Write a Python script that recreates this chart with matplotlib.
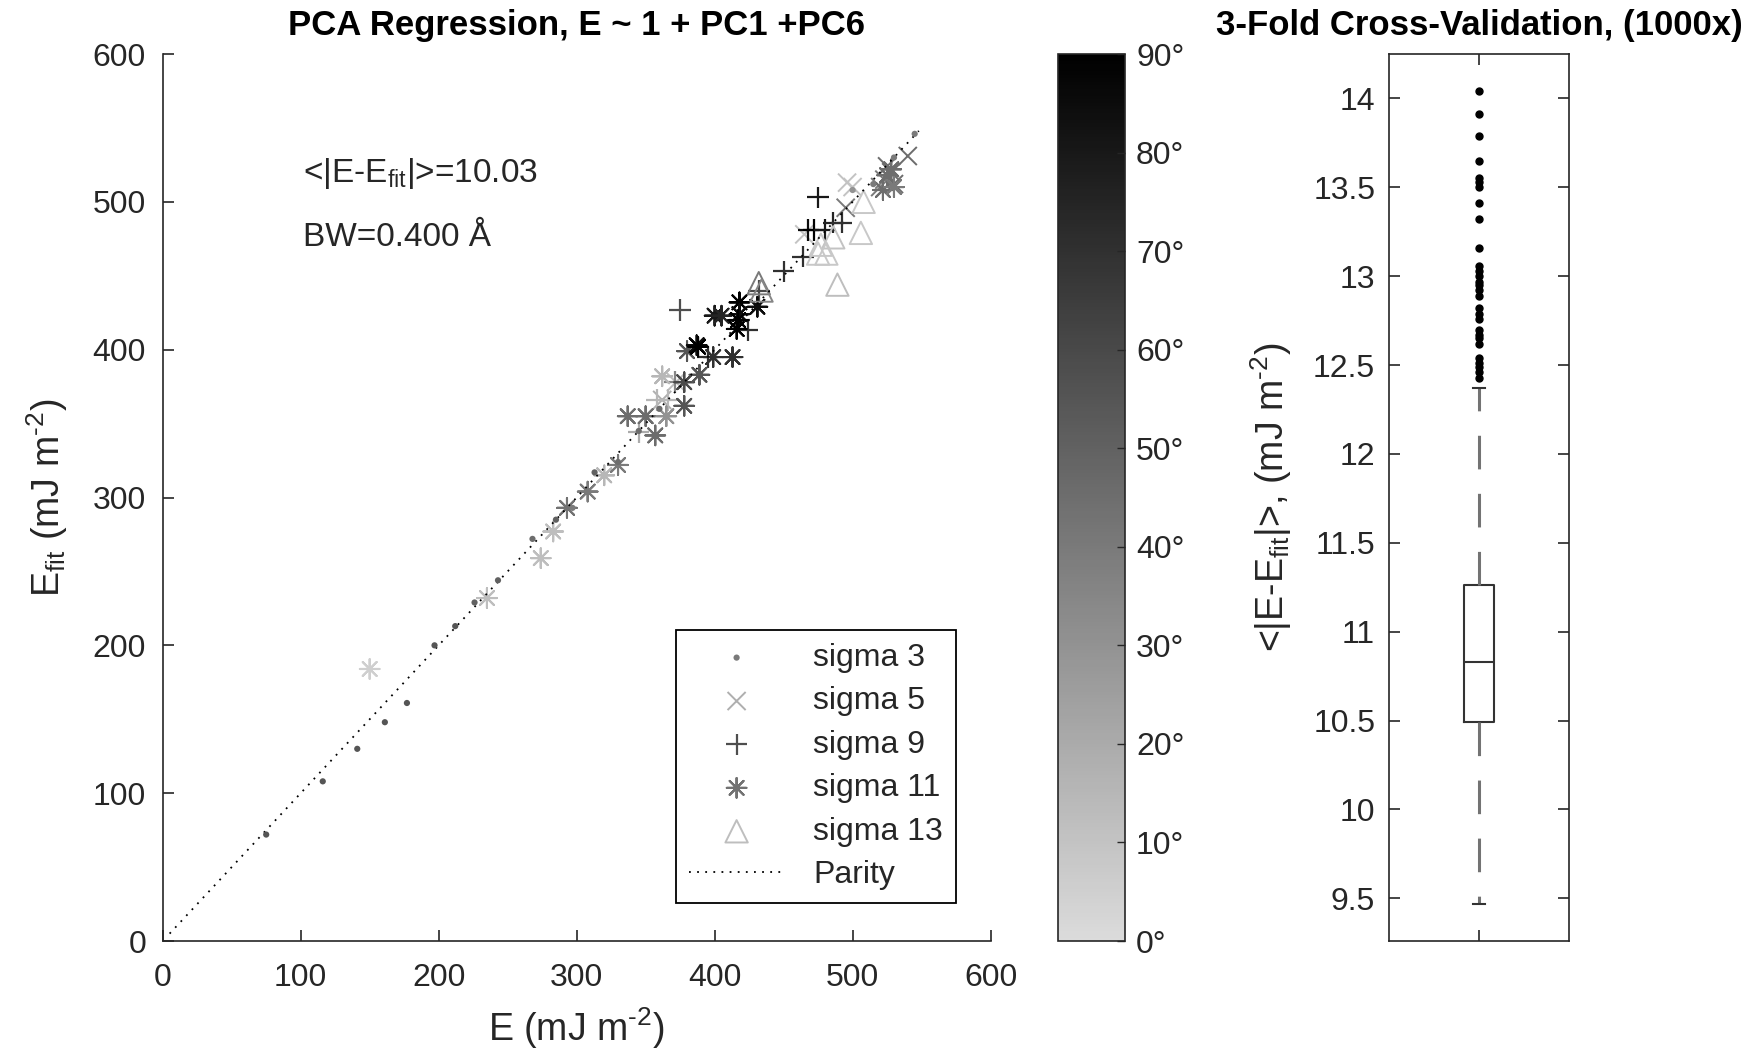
"""PCA regression parity plot with colour-coded angle and cross-validation boxplot"""

import matplotlib
matplotlib.use("Agg")
import numpy as np
import matplotlib.pyplot as plt
from matplotlib.colors import LinearSegmentedColormap, Normalize
from matplotlib.markers import MarkerStyle
from matplotlib.ticker import FuncFormatter

plt.rcParams['font.family'] = ['Liberation Sans', 'DejaVu Sans']
plt.rcParams['mathtext.fontset'] = 'custom'
plt.rcParams['mathtext.rm'] = 'Liberation Sans'
plt.rcParams['mathtext.it'] = 'Liberation Sans:italic'
plt.rcParams['mathtext.bf'] = 'Liberation Sans:bold'

TXT = (0.15, 0.15, 0.15)
FS = 23      # tick / legend text
LFS = 27     # axis labels
TFS = 25     # titles

# ---- data: E, E_fit, angle (deg) per sigma group ----
s3_e = [297, 75, 116, 141, 161, 177, 197, 212, 226, 243, 268, 285, 313, 330, 345, 360, 500, 515, 530, 545]
s3_fit = [293, 72, 108, 130, 148, 161, 200, 213, 229, 244, 272, 285, 317, 324, 345, 360, 508, 512, 530, 546]
s3_ang = [40, 55, 55, 55, 55, 55, 55, 55, 50, 50, 45, 50, 50, 45, 45, 45, 30, 40, 40, 40]

s5_e = [362, 540, 523, 528, 520, 530, 525, 500, 496, 495, 465, 372]
s5_fit = [366, 531, 515, 520, 510, 512, 524, 510, 513, 496, 478, 378]
s5_ang = [18, 45, 40, 45, 40, 45, 45, 10, 10, 40, 10, 12]

s9_e = [375, 475, 468, 472, 480, 486, 492, 464, 450, 432, 424, 418, 366, 358, 371, 345, 395]
s9_fit = [427, 503, 481, 481, 481, 486, 486, 463, 453, 440, 413, 420, 366, 366, 378, 344, 395]
s9_ang = [58, 80, 85, 90, 80, 75, 70, 70, 70, 60, 70, 70, 15, 15, 35, 20, 70]

s11_e = [293, 150, 235, 274, 283, 320, 362, 308, 330, 337, 350, 357, 365, 378, 378, 380, 387,
         388, 389, 399, 413, 400, 405, 418, 418, 417, 416, 431, 525, 522, 530, 528]
s11_fit = [293, 184, 232, 259, 277, 315, 382, 304, 322, 355, 355, 342, 355, 362, 378, 399, 403,
           402, 383, 395, 395, 423, 423, 432, 424, 420, 414, 429, 518, 508, 510, 522]
s11_ang = [43, 5, 12, 12, 12, 15, 15, 40, 40, 45, 45, 45, 30, 55, 60, 55, 85,
           90, 55, 70, 70, 80, 75, 90, 85, 90, 90, 85, 45, 45, 40, 45]

s13_e = [489, 432, 434, 508, 506, 486, 477, 481, 475]
s13_fit = [444, 445, 440, 500, 479, 476, 471, 465, 465]
s13_ang = [12, 40, 35, 8, 8, 10, 8, 8, 8]

parity_x = [5, 548]
parity_y = [5, 548]

cbar_ticks = [0, 10, 20, 30, 40, 50, 60, 70, 80, 90]

# cross-validation boxplot statistics
cv_q1 = 10.49
cv_med = 10.83
cv_q3 = 11.26
cv_lo = 9.47
cv_hi = 12.37
cv_fliers = [14.04, 13.91, 13.79, 13.65, 13.55, 13.53, 13.50, 13.41, 13.32, 13.16,
             13.06, 13.03, 13.00, 12.97, 12.95, 12.92, 12.89, 12.82, 12.79, 12.76,
             12.70, 12.67, 12.65, 12.62, 12.54, 12.51, 12.49, 12.46, 12.43]

UNIT = r'(mJ m$^{\mathrm{‐2}}$)'

# ---- figure ----
fig = plt.figure(figsize=(17.61, 10.61), dpi=100)
cmap = LinearSegmentedColormap.from_list('grey_ang', [(0.86, 0.86, 0.86), (0, 0, 0)])
norm = Normalize(0, 90)

ax = fig.add_axes([0.0924, 0.1131, 0.4701, 0.836])
h3 = ax.scatter(s3_e, s3_fit, c=s3_ang, cmap=cmap, norm=norm, marker='o', s=20,
                linewidths=0, label='sigma 3', zorder=3)
h5 = ax.scatter(s5_e, s5_fit, c=s5_ang, cmap=cmap, norm=norm, marker='x', s=170,
                linewidths=1.4, label='sigma 5')
h9 = ax.scatter(s9_e, s9_fit, c=s9_ang, cmap=cmap, norm=norm, marker='+', s=240,
                linewidths=1.6, label='sigma 9')
h11 = ax.scatter(s11_e, s11_fit, c=s11_ang, cmap=cmap, norm=norm,
                 marker=MarkerStyle((8, 2, 0)), s=200, linewidths=1.5, label='sigma 11')
# open triangles: edge colour from the same colormap/norm
h13 = ax.scatter(s13_e, s13_fit, marker='^', s=260, linewidths=1.4,
                 facecolors='none', edgecolors=cmap(norm(np.array(s13_ang))),
                 label='sigma 13')
hp, = ax.plot(parity_x, parity_y, linestyle=(0, (1, 3.5)), color='black', lw=1.3,
              label='Parity')

ax.set_xlim(0, 600)
ax.set_ylim(0, 600)
ax.set_xticks(range(0, 601, 100))
ax.set_yticks(range(0, 601, 100))
ax.spines['top'].set_visible(False)
ax.spines['right'].set_visible(False)
for sp in ax.spines.values():
    sp.set_color(TXT)
    sp.set_linewidth(1.2)
ax.tick_params(direction='in', length=8, width=1.2, colors=TXT, labelsize=FS)
ax.tick_params(axis='x', pad=16)
ax.tick_params(axis='y', pad=12)
ax.set_xlabel('E ' + UNIT, fontsize=LFS, color=TXT, labelpad=9)
ax.set_ylabel(r'E$_{\rm fit}$ ' + UNIT, fontsize=LFS, color=TXT, labelpad=16)
ax.set_title('PCA Regression, E ~ 1 + PC1 +PC6', fontsize=TFS, fontweight='bold',
             pad=14)

ax.text(102, 519, r'<|E-E$_{\rm fit}$|>=10.03', fontsize=FS + 1, color=TXT, va='center')
ax.text(102, 476, 'BW=0.400 Å', fontsize=FS + 1, color=TXT, va='center')

leg = ax.legend(handles=[h3, h5, h9, h11, h13, hp], loc='lower right',
                bbox_to_anchor=(0.958, 0.043), borderaxespad=0, fontsize=FS,
                scatterpoints=1, fancybox=False, edgecolor='black', framealpha=1,
                handlelength=3.0, labelspacing=0.42, borderpad=0.4, handletextpad=0.9)
leg.get_frame().set_linewidth(1.3)
for t in leg.get_texts():
    t.set_color(TXT)

# ---- colorbar ----
cax = fig.add_axes([0.6008, 0.1131, 0.038, 0.836])
cb = fig.colorbar(h11, cax=cax, ticks=cbar_ticks)
cb.ax.set_yticklabels([f'{t}°' for t in cbar_ticks])
cb.ax.tick_params(direction='in', length=6, width=1, colors=TXT, labelsize=FS, pad=8)
cb.outline.set_linewidth(1.2)
cb.outline.set_edgecolor(TXT)

# ---- cross-validation boxplot ----
bx = fig.add_axes([0.7888, 0.1131, 0.1022, 0.836])
stats = [{'med': cv_med, 'q1': cv_q1, 'q3': cv_q3, 'whislo': cv_lo, 'whishi': cv_hi,
          'fliers': cv_fliers}]
bx.bxp(stats, positions=[1], widths=0.167, capwidths=0.07, showfliers=True,
       boxprops=dict(color=(0.2, 0.2, 0.2), linewidth=1.5),
       medianprops=dict(color=(0.2, 0.2, 0.2), linewidth=1.5),
       whiskerprops=dict(color=(0.45, 0.45, 0.45), linewidth=2.2,
                         linestyle=(0, (11, 8))),
       capprops=dict(color=(0.2, 0.2, 0.2), linewidth=1.5),
       flierprops=dict(marker='o', markersize=5, markerfacecolor='black',
                       markeredgecolor='black'))
bx.set_xlim(0.5, 1.5)
bx.set_ylim(9.26, 14.25)
bx.set_xticks([1])
bx.set_xticklabels([])
bx.set_yticks(np.arange(9.5, 14.01, 0.5))
bx.yaxis.set_major_formatter(FuncFormatter(lambda v, p: f'{v:g}'))
bx.tick_params(direction='in', length=8, width=1.2, colors=TXT, labelsize=FS,
               top=True, right=True, pad=10)
for sp in bx.spines.values():
    sp.set_color(TXT)
    sp.set_linewidth(1.2)
bx.set_ylabel(r'<|E-E$_{\rm fit}$|>, ' + UNIT, fontsize=LFS, color=TXT, labelpad=14)
bx.set_title('3-Fold Cross-Validation, (1000x)', fontsize=TFS, fontweight='bold',
             pad=14)

fig.savefig('out.png', dpi=100)
